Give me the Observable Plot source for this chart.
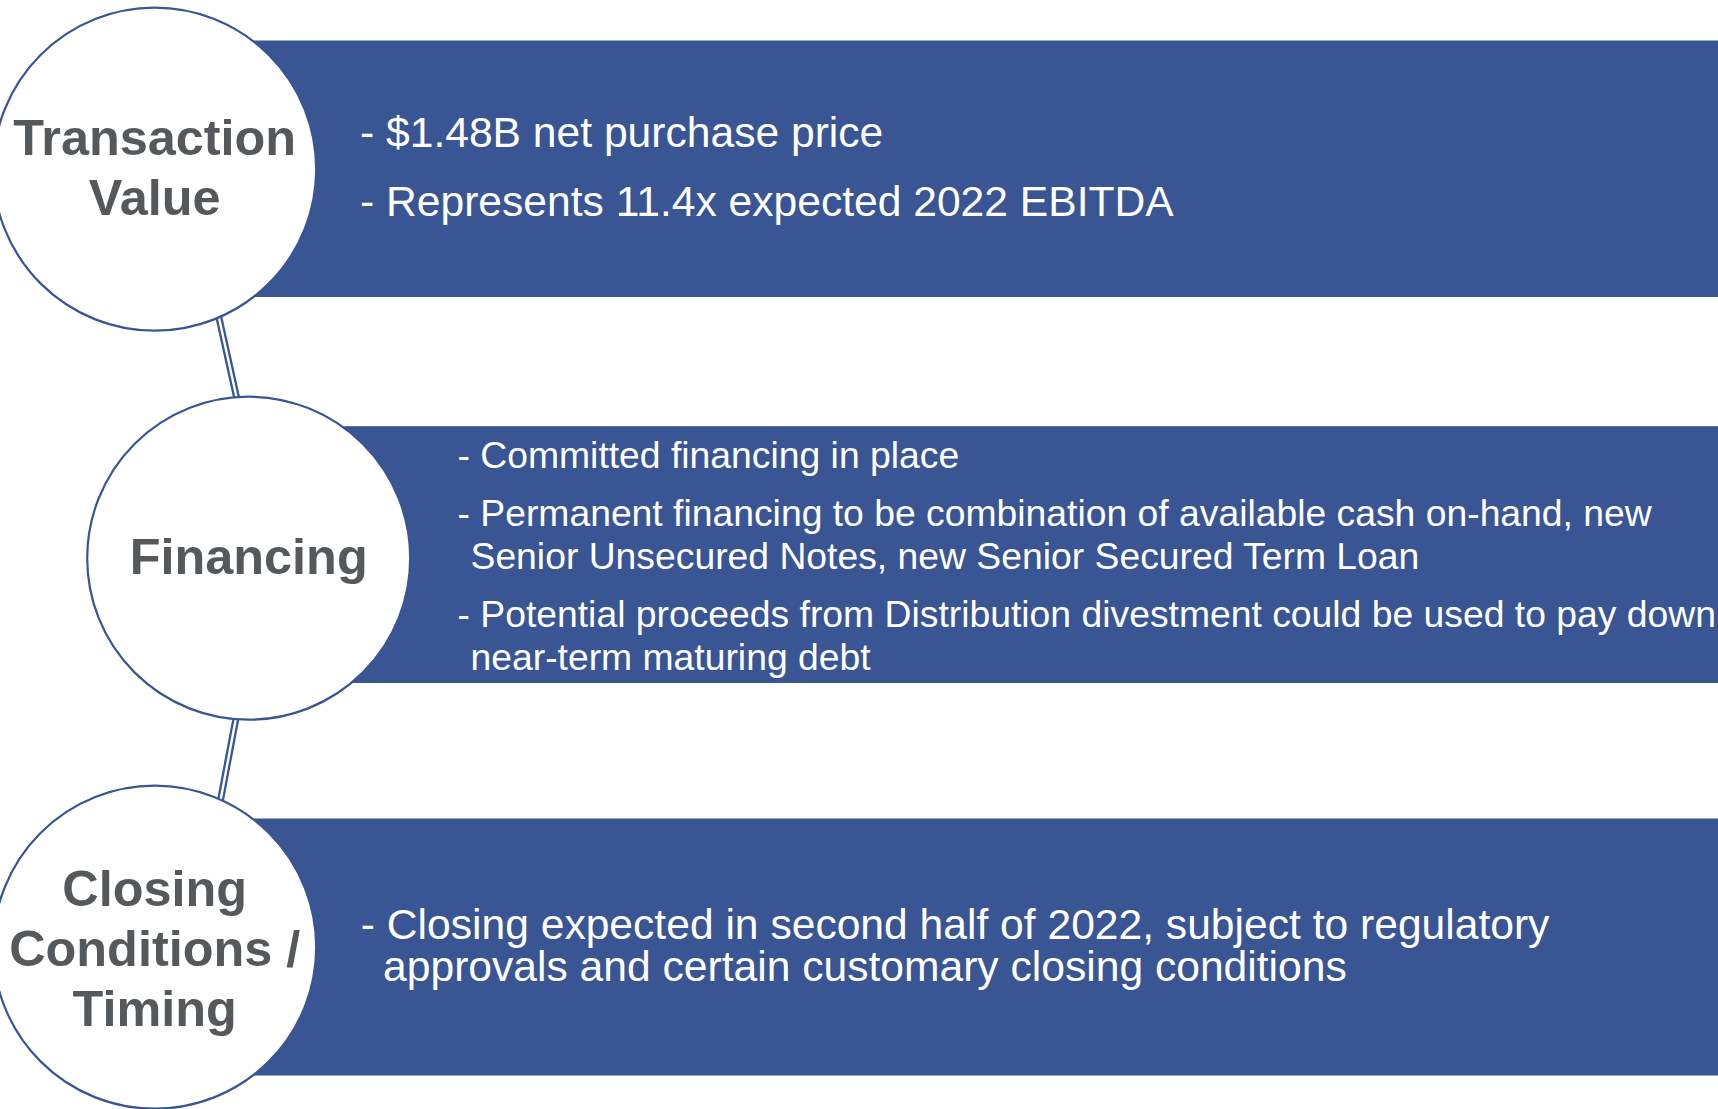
<!DOCTYPE html>
<html>
<head>
<meta charset="utf-8">
<script src="https://cdn.jsdelivr.net/npm/d3@7"></script>
<script src="https://cdn.jsdelivr.net/npm/@observablehq/plot@0.6"></script>
<style>
  html, body { margin: 0; padding: 0; background: #ffffff; }
  #chart svg { display: block; }
</style>
</head>
<body>
<div id="chart"></div>
<script>
// ---- content ----
const sections = ["Transaction\nValue", "Financing", "Closing\nConditions /\nTiming"];
const sectionIndent = [0, 1, 0];
const bulletsTransaction = [
  ["- $1.48B net purchase price"],
  ["- Represents 11.4x expected 2022 EBITDA"]
];
const bulletsFinancing = [
  ["- Committed financing in place"],
  ["- Permanent financing to be combination of available cash on-hand, new", "Senior Unsecured Notes, new Senior Secured Term Loan"],
  ["- Potential proceeds from Distribution divestment could be used to pay down", "near-term maturing debt"]
];
const bulletsClosing = [
  ["- Closing expected in second half of 2022, subject to regulatory", "approvals and certain customary closing conditions"]
];
const bulletsBySection = [bulletsTransaction, bulletsFinancing, bulletsClosing];

// ---- layout ----
const W = 1718, H = 1109;
const BLUE = "#3a5594", GRAY = "#55595b";
const FONT = "Liberation Sans, Arial, Helvetica, sans-serif";
const R = 161.5;
const rowStart = 168.7, rowStep = 389;
const colStart = 154.2, indentStep = 94;
const bannerAbove = [128.2, 131.5, 128.2];
const bannerBelow = [128.3, 125.3, 128.8];
const labelShift = [-3, -3, 0];
const textStyle = [
  {size: 42.6, first: -22,   line: 43,   para: 68.3, dx: 205.3, cont: 0},
  {size: 37.3, first: -90.4, line: 43.3, para: 58,   dx: 208.8, cont: 13},
  {size: 42.6, first: -8.4,  line: 42.5, para: 0,    dx: 206.1, cont: 22.3}
];

const rows = sections.map((label, i) => ({
  label,
  cx: colStart + indentStep * sectionIndent[i],
  cy: rowStart + rowStep * i,
  i
}));

// bullet text lines
const lines = [];
rows.forEach((r, i) => {
  const st = textStyle[i];
  let y = r.cy + st.first;
  bulletsBySection[i].forEach((para) => {
    para.forEach((t, l) => {
      lines.push({section: i, text: t, x: r.cx + st.dx + (l > 0 ? st.cont : 0), y});
      y += (l < para.length - 1) ? st.line : st.para;
    });
  });
});

// connectors (double lines) between consecutive circles
const connectorDx = [[64.2, -12.2], [-12.9, 65.9]];
const connectors = connectorDx.map(([a, b], k) => {
  const c1 = rows[k], c2 = rows[k + 1];
  const p1 = {x: c1.cx + a, y: c1.cy + Math.sqrt(R * R - a * a)};
  const p2 = {x: c2.cx + b, y: c2.cy - Math.sqrt(R * R - b * b)};
  const dx = p2.x - p1.x, dy = p2.y - p1.y, len = Math.hypot(dx, dy);
  const e = 6;
  return {x1: p1.x - dx / len * e, y1: p1.y - dy / len * e, x2: p2.x + dx / len * e, y2: p2.y + dy / len * e};
});

const textMarks = [0, 1, 2].map(s => Plot.text(lines.filter(d => d.section === s), {
  x: "x", y: "y", text: "text",
  textAnchor: "start", lineAnchor: "bottom",
  fill: "white", fontSize: textStyle[s].size, fontFamily: FONT
}));

const labelMarks = [0, 1, 2].map(s => Plot.text(rows.filter(d => d.i === s), {
  x: "cx", y: "cy", text: "label", dy: labelShift[s],
  textAnchor: "middle", lineAnchor: "middle", lineHeight: 1.19,
  fill: GRAY, fontSize: 50.4, fontWeight: "bold", fontFamily: FONT
}));

const chart = Plot.plot({
  width: W,
  height: H,
  margin: 0,
  x: {domain: [0, W], range: [0, W], axis: null},
  y: {domain: [0, H], range: [0, H], axis: null},
  style: {background: "white", overflow: "visible"},
  marks: [
    Plot.rect(rows, {
      x1: "cx", x2: () => W,
      y1: d => d.cy - bannerAbove[d.i], y2: d => d.cy + bannerBelow[d.i],
      fill: BLUE
    }),
    Plot.link(connectors, {x1: "x1", y1: "y1", x2: "x2", y2: "y2", stroke: BLUE, strokeWidth: 7}),
    Plot.link(connectors, {x1: "x1", y1: "y1", x2: "x2", y2: "y2", stroke: "white", strokeWidth: 2.4}),
    Plot.dot(rows, {x: "cx", y: "cy", r: R, fill: "white", stroke: BLUE, strokeWidth: 2.2}),
    ...labelMarks,
    ...textMarks
  ]
});
document.getElementById("chart").appendChild(chart);
</script>
</body>
</html>
